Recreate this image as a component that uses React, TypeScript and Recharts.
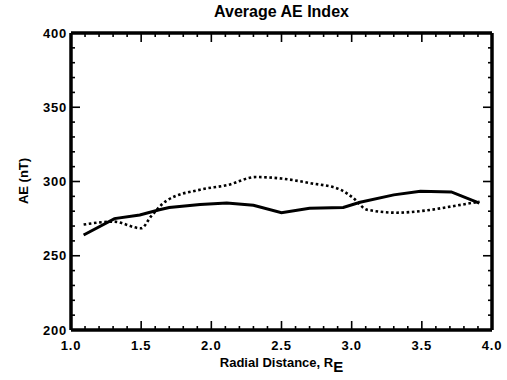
import React from 'react';
import { Line, LineChart, XAxis, YAxis } from 'recharts';

// solid curve
const solidR = [1.09, 1.31, 1.49, 1.63, 1.7, 1.92, 2.11, 2.3, 2.5, 2.7, 2.94, 3.06, 3.3, 3.49, 3.71, 3.91];
const solidAE = [264, 275, 277.5, 281, 282.5, 284.5, 285.5, 284, 279, 282, 282.5, 286, 291, 293.5, 293, 285.5];

// dotted curve
const dottedR = [1.09, 1.3, 1.5, 1.57, 1.68, 1.92, 2.11, 2.32, 2.5, 2.7, 2.92, 3.01, 3.11, 3.32, 3.53, 3.73, 3.91];
const dottedAE = [271, 273, 268.5, 276.5, 287, 294.5, 297.5, 303, 302, 299, 294.5, 289, 281, 279, 280.5, 283.5, 286.5];

const xMajor = [1.0, 1.5, 2.0, 2.5, 3.0, 3.5, 4.0];
const xAll = [
  1.0, 1.1, 1.2, 1.3, 1.4, 1.5, 1.6, 1.7, 1.8, 1.9, 2.0, 2.1, 2.2, 2.3, 2.4, 2.5,
  2.6, 2.7, 2.8, 2.9, 3.0, 3.1, 3.2, 3.3, 3.4, 3.5, 3.6, 3.7, 3.8, 3.9, 4.0,
];
const yMajor = [200, 250, 300, 350, 400];
const yAll = [
  200, 210, 220, 230, 240, 250, 260, 270, 280, 290, 300, 310, 320, 330, 340, 350,
  360, 370, 380, 390, 400,
];

const solidData = solidR.map((r, i) => ({ r, ae: solidAE[i] }));
const dottedData = dottedR.map((r, i) => ({ r, ae: dottedAE[i] }));

const FONT = '"Liberation Sans", Arial, Helvetica, sans-serif';
const frame = { stroke: '#000', strokeWidth: 3.5 };

const txt = { fontFamily: FONT, fontWeight: 700, fontSize: 13, fill: '#000', letterSpacing: 0.8 };

const BottomTick = (props: any) => {
  const { x, y, payload } = props;
  const major = xMajor.includes(payload.value);
  return (
    <g>
      <line x1={x} y1={y} x2={x} y2={y - (major ? 9 : 4)} stroke="#000" strokeWidth={1.6} />
      {major && (
        <text x={x} y={y + 20} textAnchor="middle" {...txt}>
          {payload.value.toFixed(1)}
        </text>
      )}
    </g>
  );
};

const TopTick = (props: any) => {
  const { x, y, payload } = props;
  const major = xMajor.includes(payload.value);
  return <line x1={x} y1={y} x2={x} y2={y + (major ? 9 : 4)} stroke="#000" strokeWidth={1.6} />;
};

const LeftTick = (props: any) => {
  const { x, y, payload } = props;
  const major = yMajor.includes(payload.value);
  return (
    <g>
      <line x1={x} y1={y} x2={x + (major ? 9 : 4)} y2={y} stroke="#000" strokeWidth={1.6} />
      {major && (
        <text x={x - 4} y={y} dy="0.36em" textAnchor="end" {...txt}>
          {payload.value}
        </text>
      )}
    </g>
  );
};

const RightTick = (props: any) => {
  const { x, y, payload } = props;
  const major = yMajor.includes(payload.value);
  return <line x1={x} y1={y} x2={x - (major ? 9 : 4)} y2={y} stroke="#000" strokeWidth={1.6} />;
};

export default function App() {
  return (
    <div style={{ position: 'absolute', left: 0, top: 0, width: 507, height: 380, background: '#fff' }}>
      <div
        style={{
          position: 'absolute', left: 71, width: 421, top: 3, textAlign: 'center',
          fontFamily: FONT, fontWeight: 700, fontSize: 16,
        }}
      >
        Average AE Index
      </div>
      <div
        style={{
          position: 'absolute', left: 23, top: 181, transform: 'translate(-50%, -50%) rotate(-90deg)',
          whiteSpace: 'nowrap', fontFamily: FONT, fontWeight: 700, fontSize: 13,
        }}
      >
        AE (nT)
      </div>
      <div
        style={{
          position: 'absolute', left: 71, width: 421, top: 356, textAlign: 'center',
          fontFamily: FONT, fontWeight: 700, fontSize: 13, lineHeight: '14px',
        }}
      >
        Radial Distance, R<sub style={{ fontSize: 15, verticalAlign: -5, lineHeight: 0 }}>E</sub>
      </div>
      <LineChart width={507} height={380} margin={{ top: 32, right: 14, bottom: 0, left: 0 }}>
        <XAxis
          dataKey="r"
          type="number"
          domain={[1, 4]}
          allowDataOverflow
          ticks={xAll}
          interval={0}
          height={50}
          tickSize={0}
          tickMargin={0}
          tickLine={false}
          axisLine={frame}
          tick={<BottomTick />}
        />
        <XAxis
          xAxisId="top"
          orientation="top"
          dataKey="r"
          type="number"
          domain={[1, 4]}
          allowDataOverflow
          ticks={xAll}
          interval={0}
          height={1}
          tickSize={0}
          tickMargin={0}
          tickLine={false}
          axisLine={frame}
          tick={<TopTick />}
        />
        <YAxis
          type="number"
          domain={[200, 400]}
          allowDataOverflow
          ticks={yAll}
          interval={0}
          width={71}
          tickSize={0}
          tickMargin={0}
          tickLine={false}
          axisLine={frame}
          tick={<LeftTick />}
        />
        <YAxis
          yAxisId="right"
          orientation="right"
          type="number"
          domain={[200, 400]}
          allowDataOverflow
          ticks={yAll}
          interval={0}
          width={1}
          tickSize={0}
          tickMargin={0}
          tickLine={false}
          axisLine={frame}
          tick={<RightTick />}
        />
        <Line
          data={dottedData}
          dataKey="ae"
          type="monotone"
          stroke="#000"
          strokeWidth={2.6}
          strokeDasharray="2.6 2.6"
          dot={false}
          isAnimationActive={false}
        />
        <Line
          data={solidData}
          dataKey="ae"
          type="linear"
          stroke="#000"
          strokeWidth={3}
          dot={false}
          isAnimationActive={false}
        />
      </LineChart>
    </div>
  );
}
